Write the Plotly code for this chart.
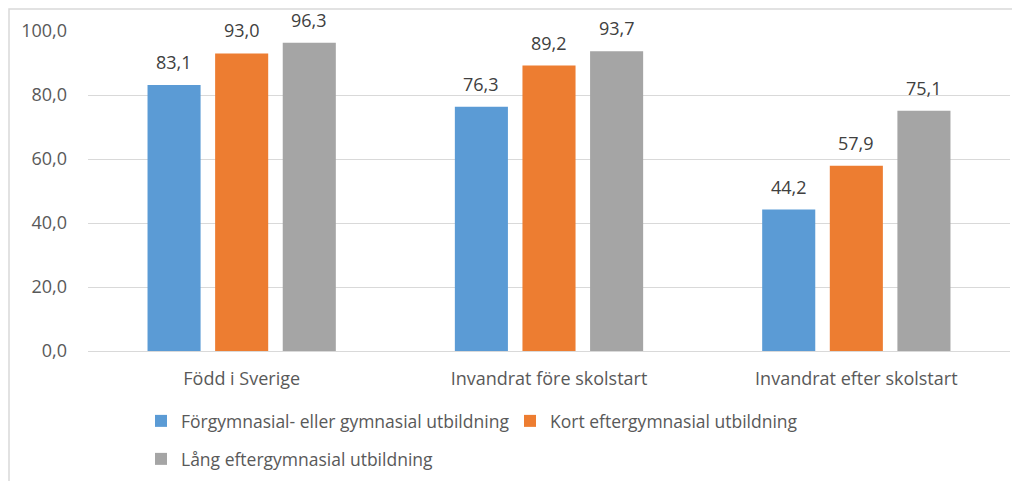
import plotly.graph_objects as go

categories = ["Född i Sverige", "Invandrat före skolstart", "Invandrat efter skolstart"]
series_names = ["Förgymnasial- eller gymnasial utbildning",
                "Kort eftergymnasial utbildning",
                "Lång eftergymnasial utbildning"]
forgymnasial = [83.1, 76.3, 44.2]
kort = [93.0, 89.2, 57.9]
lang = [96.3, 93.7, 75.1]
y_ticks = [0, 20, 40, 60, 80, 100]

colors = ["#5b9bd5", "#ed7d31", "#a5a5a5"]
FONT = "Open Sans"
FS = 18
OFF = 8  # page body margin
W, H = 1020 - OFF, 481 - OFF
L, R, T = 88 - OFF, 10, 31 - OFF
B = H - (351 - OFF)
pw, ph = W - L - R, H - T - B

def px_x(x):
    return (x - OFF - L) / pw

def px_y(y):
    return (H - B - (y - OFF)) / ph

fig = go.Figure()
legend_ids = ["legend", "legend2", "legend3"]
all_vals = [forgymnasial, kort, lang]
for name, vals, c, lg in zip(series_names, all_vals, colors, legend_ids):
    fig.add_trace(go.Bar(
        x=categories, y=vals, name=name, marker_color=c, marker_line_width=0,
        legend=lg, showlegend=True,
    ))

bargap, bargroupgap = 0.34, 0.215
slot = pw / len(categories) * (1 - bargap) / len(all_vals)
annotations = []
for i, vals in enumerate(all_vals):
    for cat, v in zip(categories, vals):
        annotations.append(dict(
            x=cat, y=v, xref="x", yref="y", showarrow=False,
            text=f"{v:.1f}".replace(".", ","), yanchor="bottom",
            xshift=(i - 1) * slot, yshift=9,
            font=dict(family=FONT, size=FS, color="#404040"),
        ))

leg_common = dict(orientation="h", xanchor="left", yanchor="middle",
                  font=dict(family=FONT, size=17.5, color="#595959"),
                  bgcolor="rgba(0,0,0,0)", itemwidth=30, tracegroupgap=0,
                  visible=True)

fig.update_layout(
    width=W, height=H,
    margin=dict(l=L, r=R, t=T, b=B, autoexpand=False),
    paper_bgcolor="white", plot_bgcolor="white",
    showlegend=True,
    barmode="group", bargap=bargap, bargroupgap=bargroupgap,
    separators=", ",
    font=dict(family=FONT, size=FS, color="#595959"),
    legend=dict(x=px_x(141), y=px_y(421), **leg_common),
    legend2=dict(x=px_x(510), y=px_y(421), **leg_common),
    legend3=dict(x=px_x(141), y=px_y(459), **leg_common),
    xaxis=dict(showgrid=False, showline=False, ticks="", ticklabelstandoff=15,
               tickfont=dict(family=FONT, size=FS, color="#595959")),
    yaxis=dict(range=[0, 100], tickvals=y_ticks, tickformat=".1f",
               showgrid=True, gridcolor="#d9d9d9", gridwidth=1,
               zeroline=True, zerolinecolor="#d9d9d9", zerolinewidth=1,
               showline=False, ticks="", ticklabelstandoff=20,
               tickfont=dict(family=FONT, size=FS, color="#595959")),
    annotations=annotations,
    shapes=[dict(type="rect", xref="paper", yref="paper",
                 x0=px_x(OFF + 1), x1=px_x(1030), y0=px_y(OFF + 1), y1=px_y(495),
                 line=dict(color="#d9d9d9", width=1.5), fillcolor="rgba(0,0,0,0)",
                 layer="below")],
)

fig.write_html("out.html")
